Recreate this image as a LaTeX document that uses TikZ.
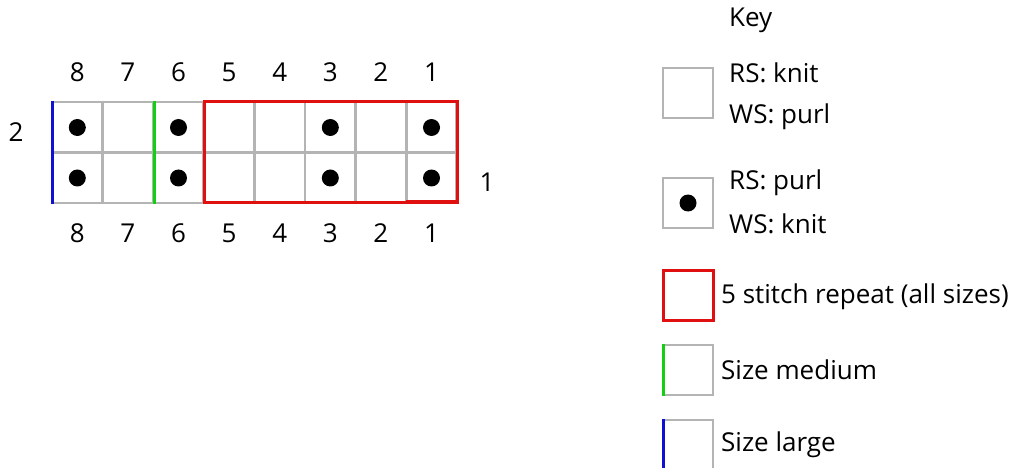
\documentclass[tikz,border=0pt]{standalone}
\usepackage{fontspec}
\setmainfont{Open Sans}
\definecolor{gridgray}{HTML}{B4B4B4}
\definecolor{repred}{HTML}{E01010}
\definecolor{medgreen}{HTML}{10D010}
\definecolor{lrgblue}{HTML}{1010D0}
\begin{document}
\begin{tikzpicture}[x=1pt,y=-1pt,
  lbl/.style={font=\fontsize{26}{30}\selectfont, inner sep=0pt},
  keytxt/.style={font=\fontsize{26}{30}\selectfont, inner sep=0pt, anchor=west},
  cell/.style={draw=gridgray, line width=2.8pt},
  repbox/.style={draw=repred, line width=3pt},
  medline/.style={draw=medgreen, line width=3pt},
  lrgline/.style={draw=lrgblue, line width=3pt},
  purldot/.style={fill=black}]
\useasboundingbox (0,0) rectangle (1018,468);
\def\cw{50.6}
% grid cells
\foreach \c in {0,...,7}{
  \foreach \r in {0,1}{
    \draw[cell] ({52+\c*\cw},{102+\r*50.5}) rectangle ({52+(\c+1)*\cw},{102+(\r+1)*50.5});
  }
}
% purl dots
\foreach \c in {0,2,5,7}{
  \foreach \r in {0,1}{
    \fill[purldot] ({52+(\c+0.5)*\cw},{127.5+\r*50.5}) circle (8.5);
  }
}
% repeat box, size lines
\draw[repbox] (204,102) rectangle (457,203);
\draw[repred, line width=4pt] (406,202.5) -- (457,202.5);
\draw[medline] (154,101) -- (154,204);
\draw[lrgline] (52,101) -- (52,204);
% column numbers
\foreach \n [count=\i from 0] in {8,7,6,5,4,3,2,1}{
  \node[lbl] (top\n) at ({52+(\i+0.5)*\cw},72) {\n};
  \node[lbl] (bot\n) at ({52+(\i+0.5)*\cw},233) {\n};
}
\node[lbl] (row2) at (16,132) {2};
\node[lbl] (row1) at (487,182) {1};
% key
\node[keytxt] (key) at (729,20) {Key};
\draw[cell] (663,68) rectangle (713,118);
\node[keytxt] (k1a) at (729,73) {RS: knit};
\node[keytxt] (k1b) at (729,117) {WS: purl};
\draw[cell] (663,178) rectangle (713,228);
\fill[purldot] (688,203) circle (8.5);
\node[keytxt] (k2a) at (729,183) {RS: purl};
\node[keytxt] (k2b) at (729,224) {WS: knit};
\draw[repbox] (663,270) rectangle (713,320);
\node[keytxt] (k3) at (721,297) {5 stitch repeat (all sizes)};
\draw[cell] (663,345) rectangle (713,395);
\draw[medline] (663,344) -- (663,396);
\node[keytxt] (k4) at (721,370) {Size medium};
\draw[cell] (663,420) rectangle (713,470);
\draw[lrgline] (663,419) -- (663,471);
\node[keytxt] (k5) at (721,445) {Size large};
\end{tikzpicture}
\end{document}
